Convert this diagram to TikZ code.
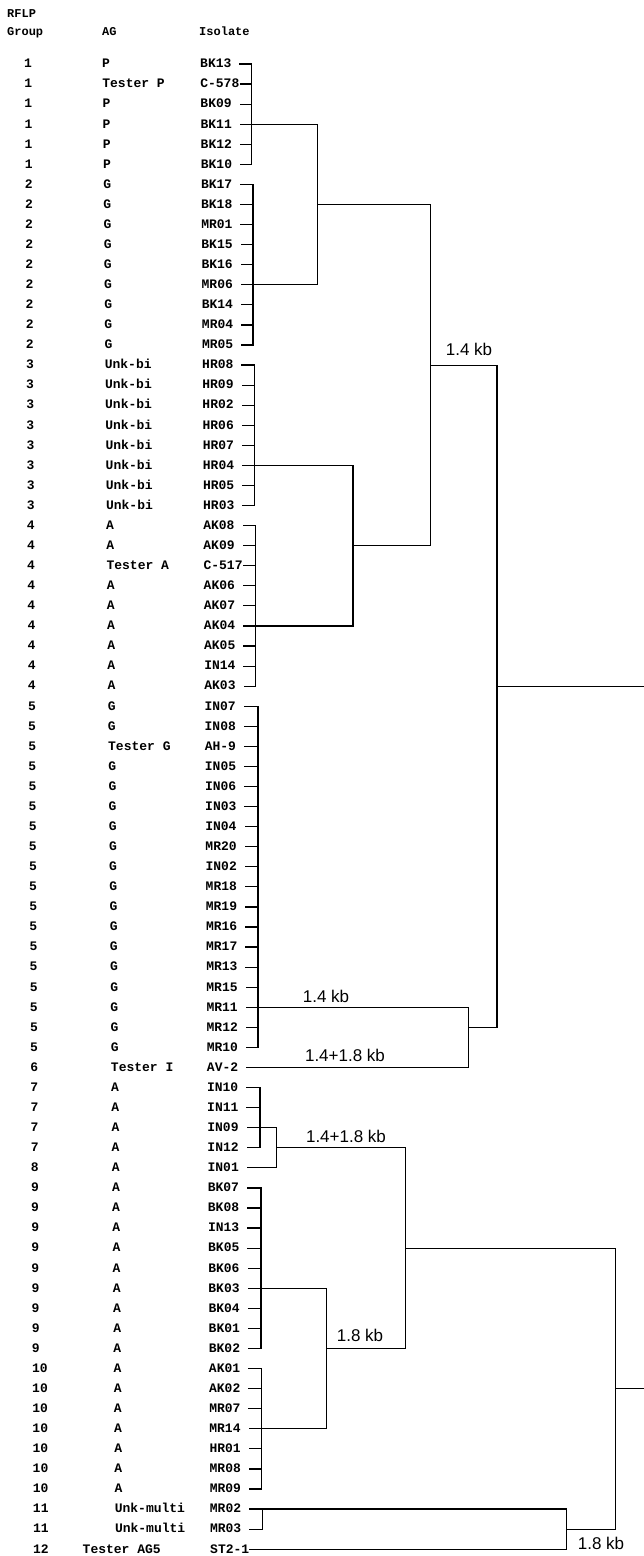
\documentclass[tikz,border=0pt]{standalone}
\usepackage{fontspec}
\setmainfont{Liberation Sans}
\newfontfamily\cour{Liberation Mono}
\begin{document}
\begin{tikzpicture}[x=1pt,y=-1pt,
  lab/.style={font=\cour\bfseries\fontsize{13}{13}\selectfont, inner sep=0pt, anchor=base west},
  hdr/.style={font=\cour\bfseries\fontsize{12}{12}\selectfont, inner sep=0pt, anchor=base west},
  kb/.style={font=\fontsize{17}{17}\selectfont, inner sep=0pt},
  br/.style={line width=1.2pt, line cap=rect}]
\fill[white] (0,0) rectangle (643,1556);
\useasboundingbox (0,0) rectangle (643,1556);
% headers
\node[hdr] (hrflp) at (7,17.5) {RFLP};
\node[hdr] (hgroup) at (7,35.5) {Group};
\node[hdr] (hag) at (102,35.5) {AG};
\node[hdr] (hiso) at (199,35.5) {Isolate};
% rows
\foreach \i/\g/\a/\s/\v in {
0/1/P/BK13/251.5, 1/1/Tester P/C-578/251.5, 2/1/P/BK09/251.5, 3/1/P/BK11/317.3, 4/1/P/BK12/251.5, 5/1/P/BK10/251.5,
6/2/G/BK17/253, 7/2/G/BK18/253, 8/2/G/MR01/253, 9/2/G/BK15/253, 10/2/G/BK16/253, 11/2/G/MR06/317.3, 12/2/G/BK14/253, 13/2/G/MR04/253, 14/2/G/MR05/253,
15/3/Unk-bi/HR08/254.5, 16/3/Unk-bi/HR09/254.5, 17/3/Unk-bi/HR02/254.5, 18/3/Unk-bi/HR06/254.5, 19/3/Unk-bi/HR07/254.5, 20/3/Unk-bi/HR04/353, 21/3/Unk-bi/HR05/254.5, 22/3/Unk-bi/HR03/254.5,
23/4/A/AK08/255.5, 24/4/A/AK09/255.5, 25/4/Tester A/C-517/255.5, 26/4/A/AK06/255.5, 27/4/A/AK07/255.5, 28/4/A/AK04/353, 29/4/A/AK05/255.5, 30/4/A/IN14/255.5, 31/4/A/AK03/255.5,
32/5/G/IN07/258, 33/5/G/IN08/258, 34/5/Tester G/AH-9/258, 35/5/G/IN05/258, 36/5/G/IN06/258, 37/5/G/IN03/258, 38/5/G/IN04/258, 39/5/G/MR20/258, 40/5/G/IN02/258, 41/5/G/MR18/258, 42/5/G/MR19/258, 43/5/G/MR16/258, 44/5/G/MR17/258, 45/5/G/MR13/258, 46/5/G/MR15/258, 47/5/G/MR11/468.3, 48/5/G/MR12/258, 49/5/G/MR10/258,
50/6/Tester I/AV-2/468.3,
51/7/A/IN10/260, 52/7/A/IN11/260, 53/7/A/IN09/276.7, 54/7/A/IN12/260,
55/8/A/IN01/276.7,
56/9/A/BK07/261, 57/9/A/BK08/261, 58/9/A/IN13/261, 59/9/A/BK05/261, 60/9/A/BK06/261, 61/9/A/BK03/326.3, 62/9/A/BK04/261, 63/9/A/BK01/261, 64/9/A/BK02/261,
65/10/A/AK01/261.8, 66/10/A/AK02/261.8, 67/10/A/MR07/261.8, 68/10/A/MR14/326.3, 69/10/A/HR01/261.8, 70/10/A/MR08/261.8, 71/10/A/MR09/261.8,
72/11/Unk-multi/MR02/566.7, 73/11/Unk-multi/MR03/262.7}{
  \pgfmathsetmacro\yy{64+20.07*\i}
  \pgfmathsetmacro\gx{24+9*\i/74}
  \pgfmathsetmacro\ax{102+13*\i/74}
  \pgfmathsetmacro\sx{200+10*\i/74}
  \node[lab] (grp\i) at (\gx,\yy+3.8) {\g};
  \node[lab] (ag\i) at (\ax,\yy+3.8) {\a};
  \node[lab] (iso\i) at (\sx,\yy+3.8) {\s};
  \coordinate (r\i) at (\v,\yy);
  \draw[br] ([xshift=40pt,yshift=3.8pt]iso\i.base west) -- (r\i);
}
% last row
\node[lab] (grp74) at (33,1553) {12};
\node[lab] (ag74) at (82.5,1553) {Tester AG5};
\node[lab] (iso74) at (210,1553) {ST2-1};
\coordinate (r74) at (566.7,1549.2);
\draw[br] ([xshift=40pt,yshift=3.8pt]iso74.base west) -- (r74);
% group verticals
\coordinate (g1) at (251.5,0);
\coordinate (g2) at (253,0);
\coordinate (g3) at (254.5,0);
\coordinate (g4) at (255.5,0);
\coordinate (g5) at (258,0);
\coordinate (g7) at (260,0);
\coordinate (g9) at (261,0);
\coordinate (g10) at (261.8,0);
\coordinate (g11) at (262.7,0);
\draw[br] (r0 -| g1) -- (r5 -| g1);
\draw[br] (r6 -| g2) -- (r14 -| g2);
\draw[br] (r15 -| g3) -- (r22 -| g3);
\draw[br] (r23 -| g4) -- (r31 -| g4);
\draw[br] (r32 -| g5) -- (r49 -| g5);
\draw[br] (r51 -| g7) -- (r54 -| g7);
\draw[br] (r56 -| g9) -- (r64 -| g9);
\draw[br] (r65 -| g10) -- (r71 -| g10);
\draw[br] (r72 -| g11) -- (r73 -| g11);
% upper tree
\coordinate (Am) at (317.3,204.5);
\coordinate (Bt) at (430.7,204.5);
\coordinate (Bm) at (430.7,365.1);
\coordinate (Bb) at (430.7,545.7);
\coordinate (Cm) at (353,545.7);
\coordinate (Dt) at (497,365.1);
\coordinate (Dm) at (497,686.2);
\coordinate (Db) at (497,1027.4);
\coordinate (Dout) at (643,686.2);
\coordinate (Em) at (468.3,1027.4);
\draw[br] (r3) -- (r11);
\draw[br] (Am) -- (Bt) -- (Bb) -- (Cm);
\draw[br] (r20) -- (r28);
\draw[br] (Bm) -- (Dt) -- (Db) -- (Em);
\draw[br] (r47) -- (r50);
\draw[br] (Dm) -- (Dout);
% lower tree
\coordinate (Fm) at (276.7,1147.8);
\coordinate (Gt) at (405.5,1147.8);
\coordinate (Gm) at (405.5,1248.1);
\coordinate (Gb) at (405.5,1348.5);
\coordinate (Hm) at (326.3,1348.5);
\coordinate (It) at (615.7,1248.1);
\coordinate (Im) at (615.7,1388.6);
\coordinate (Ib) at (615.7,1529.1);
\coordinate (Iout) at (643,1388.6);
\coordinate (Jm) at (566.7,1529.1);
\draw[br] (r53) -- (r55);
\draw[br] (Fm) -- (Gt) -- (Gb) -- (Hm);
\draw[br] (r61) -- (r68);
\draw[br] (Gm) -- (It) -- (Ib) -- (Jm);
\draw[br] (r72) -- (r74);
\draw[br] (Im) -- (Iout);
% labels
\node[kb] (l1) at (469,349) {1.4 kb};
\node[kb] (l2) at (326,996) {1.4 kb};
\node[kb] (l3) at (345,1055) {1.4+1.8 kb};
\node[kb] (l4) at (346,1136) {1.4+1.8 kb};
\node[kb] (l5) at (360,1335) {1.8 kb};
\node[kb] (l6) at (601,1543) {1.8 kb};
\end{tikzpicture}
\end{document}
